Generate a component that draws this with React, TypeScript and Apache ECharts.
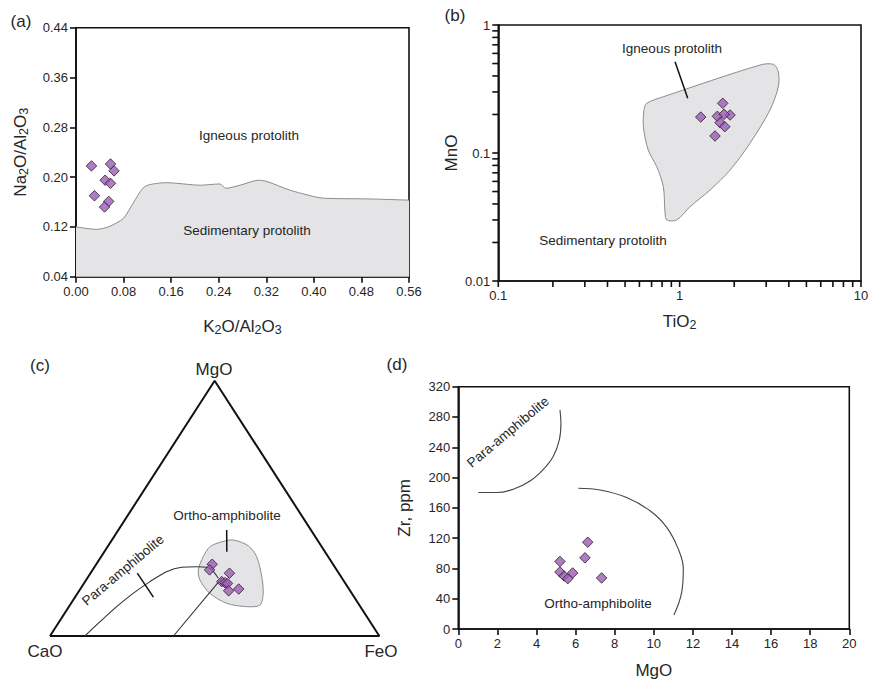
import { useEffect, useRef } from "react";
import * as echarts from "echarts";

// ---------- (a) K2O/Al2O3 vs Na2O/Al2O3 ----------
const aSamples: [number, number][] = [
  [0.026, 0.218], [0.058, 0.221], [0.064, 0.21], [0.049, 0.195],
  [0.058, 0.19], [0.031, 0.17], [0.055, 0.161], [0.048, 0.152],
];
// igneous / sedimentary dividing line
const aBoundary: [number, number][] = [
  [0, 0.12], [0.035, 0.116], [0.057, 0.121], [0.08, 0.134], [0.096, 0.158],
  [0.116, 0.185], [0.153, 0.191], [0.209, 0.187], [0.242, 0.189], [0.252, 0.182],
  [0.276, 0.187], [0.307, 0.195], [0.321, 0.193], [0.36, 0.179], [0.399, 0.169],
  [0.418, 0.166], [0.489, 0.165], [0.56, 0.163],
];

// ---------- (b) TiO2 vs MnO (log-log) ----------
const bSamples: [number, number][] = [
  [1.307, 0.191], [1.729, 0.2445], [1.614, 0.1935], [1.897, 0.198],
  [1.758, 0.2006], [1.67, 0.1725], [1.774, 0.1605], [1.567, 0.1358],
];
const bIgneousField: [number, number][] = [
  [0.658, 0.2445], [0.813, 0.275], [2.777, 0.487], [3.29, 0.493], [3.5, 0.432],
  [3.5, 0.33], [3.15, 0.217], [2.44, 0.119], [1.897, 0.0736], [1.472, 0.0514],
  [1.14, 0.038], [0.964, 0.03], [0.849, 0.03], [0.83, 0.0348], [0.813, 0.0545],
  [0.748, 0.078], [0.671, 0.1055], [0.631, 0.1605], [0.636, 0.217],
];
const bLeader: [number, number][] = [[0.943, 0.517], [1.108, 0.2675]];
const bTicksX = [0.1, 0.2, 0.3, 0.4, 0.5, 0.6, 0.7, 0.8, 0.9, 1, 2, 3, 4, 5, 6, 7, 8, 9, 10];
const bTicksY = [0.01, 0.02, 0.03, 0.04, 0.05, 0.06, 0.07, 0.08, 0.09, 0.1, 0.2, 0.3, 0.4, 0.5, 0.6, 0.7, 0.8, 0.9, 1];

// ---------- (c) CaO - MgO - FeO ternary, [CaO, MgO, FeO] % ----------
const cSamples: [number, number, number][] = [
  [36.7, 28.1, 35.2], [38.6, 25.9, 35.5], [33.2, 24.6, 42.2], [37.2, 21.3, 41.5],
  [36.4, 20.9, 42.7], [35.8, 20.6, 43.6], [33.5, 18.4, 48.1], [36.9, 17.7, 45.4],
];
const cOrthoField: [number, number, number][] = [
  [42.0, 25.9, 32.1], [37.9, 31.1, 31.0], [33.9, 35.0, 31.1], [29.4, 36.9, 33.7],
  [25.5, 37.6, 36.9], [22.1, 35.3, 42.6], [21.7, 31.1, 47.2], [24.1, 23.2, 52.7],
  [26.9, 16.7, 56.4], [30.2, 12.1, 57.7], [34.5, 11.5, 54.0], [39.9, 12.8, 47.3],
  [43.1, 16.7, 40.2], [43.5, 21.9, 34.6],
];
const cParaCurve: [number, number, number][] = [
  [89.4, 0, 10.6], [82.0, 5.6, 12.4], [74.0, 11.5, 14.5], [66.4, 16.7, 16.9],
  [59.0, 21.3, 19.7], [52.0, 25.2, 22.8], [46.6, 26.9, 26.5], [41.9, 27.1, 31.0],
  [39.0, 26.9, 34.1], [37.8, 25.2, 37.0], [37.6, 22.6, 39.8],
];
const cParaLine: [number, number, number][] = [[62.5, 0, 37.5], [36.6, 22.6, 40.8]];
const cParaLeader: [number, number, number][] = [[61.2, 24.6, 14.2], [61.0, 15.2, 23.8]];
const cOrthoLeader: [number, number, number][] = [[25.6, 41.5, 32.9], [29.8, 33.0, 37.2]];
const cApices: [number, number, number][] = [[100, 0, 0], [0, 100, 0], [0, 0, 100], [100, 0, 0]];

// ---------- (d) MgO vs Zr ----------
const dSamples: [number, number][] = [
  [6.62, 114.6], [6.48, 94.0], [5.2, 89.2], [5.2, 75.3], [5.41, 70.0],
  [5.85, 74.0], [5.6, 66.5], [7.33, 67.4],
];
const dParaCurve: [number, number][] = [
  [5.2, 289.4], [5.25, 272.0], [5.17, 250.1], [4.86, 228.2], [4.35, 210.8],
  [3.67, 195.4], [2.81, 184.5], [1.96, 180.2], [1.02, 180.2],
];
const dOrthoCurve: [number, number][] = [
  [6.14, 185.8], [7.25, 183.6], [8.61, 173.6], [9.81, 156.1], [10.66, 134.3],
  [11.25, 105.8], [11.51, 79.6], [11.43, 49.0], [11.03, 18.4],
];

const FONT = 'Arial, "Liberation Sans", Helvetica, sans-serif';
const TXT = "#262626";
const PURPLE = "#9d5db3";
const FIELD_FILL = "#e4e4e6";
const FIELD_LINE = "#8c8c8c";

// ternary composition -> plane position inside the triangle
const tern = (p: [number, number, number]): [number, number] => {
  const s = p[0] + p[1] + p[2];
  const mg = p[1] / s;
  const fe = p[2] / s;
  return [fe + mg / 2, mg];
};

// axis titles with chemical subscripts
const nameRich = {
  m: { fontSize: 17, fontFamily: FONT, color: TXT, lineHeight: 20 },
  s: { fontSize: 12.5, fontFamily: FONT, color: TXT, lineHeight: 20, verticalAlign: "bottom" as const },
};

const axisCommon = {
  axisLine: { lineStyle: { color: "#111", width: 1.6 } },
  axisTick: { length: 6, lineStyle: { color: "#111", width: 1.6 } },
  axisLabel: { color: TXT, fontSize: 13, fontFamily: FONT, margin: 8 },
  splitLine: { show: false },
  nameLocation: "middle" as const,
  nameTextStyle: { color: TXT, fontSize: 17, fontFamily: FONT, lineHeight: 20, rich: nameRich },
};

const diamond = {
  type: "scatter" as const,
  symbol: "diamond",
  symbolSize: 10.5,
  itemStyle: { color: PURPLE, borderColor: "#2a1b30", borderWidth: 1 },
  z: 5,
};

const thinLine = (color = "#444", width = 1.1) => ({
  type: "line" as const,
  symbol: "none",
  clip: false,
  lineStyle: { color, width },
  silent: true,
});

const logLabel = (v: number) => (v >= 1 ? v.toFixed(0) : String(+v.toPrecision(1)));

const text = (
  s: string, x: number, y: number, size = 13.5, rotation = 0,
) => ({
  type: "text",
  x,
  y,
  rotation: (rotation * Math.PI) / 180,
  style: {
    text: s,
    fontSize: size,
    fontFamily: FONT,
    fill: TXT,
    align: "center",
    verticalAlign: "middle",
  },
  z: 10,
});

export default function App() {
  const ref = useRef<HTMLDivElement>(null);

  useEffect(() => {
    if (!ref.current) return;
    const chart = echarts.init(ref.current, undefined, { renderer: "svg" });

    const fieldRenderer = (pts: [number, number][]) => (_p: any, api: any) => ({
      type: "polygon",
      shape: { points: pts.map((p) => api.coord(p)), smooth: 0.3 },
      style: { fill: FIELD_FILL, stroke: FIELD_LINE, lineWidth: 1 },
    });

    chart.setOption({
      animation: false,
      backgroundColor: "#ffffff",
      grid: [
        { left: 76, top: 27.7, width: 333, height: 249, show: true, borderColor: "#111", borderWidth: 1.6 },
        { left: 498.3, top: 25, width: 362.7, height: 256, show: true, borderColor: "#111", borderWidth: 1.6 },
        { left: 50, top: 380.7, width: 329.3, height: 255.3, show: false },
        { left: 458.3, top: 386.7, width: 391, height: 244, show: true, borderColor: "#111", borderWidth: 1.6 },
      ],
      xAxis: [
        {
          ...axisCommon, gridIndex: 0, type: "value", min: 0, max: 0.56, interval: 0.08,
          axisLabel: { ...axisCommon.axisLabel, formatter: (v: number) => v.toFixed(2) },
          name: "{m|K}{s|2}{m|O/Al}{s|2}{m|O}{s|3}", nameGap: 40,
        },
        {
          ...axisCommon, gridIndex: 1, type: "log", logBase: 10, min: 0.1, max: 10,
          axisTick: { show: false },
          axisLabel: { ...axisCommon.axisLabel, formatter: logLabel },
          name: "{m|TiO}{s|2}", nameGap: 30,
        },
        { gridIndex: 2, type: "value", min: 0, max: 1, show: false },
        {
          ...axisCommon, gridIndex: 3, type: "value", min: 0, max: 20, interval: 2,
          name: "MgO", nameGap: 31,
        },
      ],
      yAxis: [
        {
          ...axisCommon, gridIndex: 0, type: "value", min: 0.04, max: 0.44, interval: 0.08,
          axisLabel: { ...axisCommon.axisLabel, formatter: (v: number) => v.toFixed(2) },
          name: "{m|Na}{s|2}{m|O/Al}{s|2}{m|O}{s|3}", nameGap: 46,
        },
        {
          ...axisCommon, gridIndex: 1, type: "log", logBase: 10, min: 0.01, max: 1,
          axisTick: { show: false },
          axisLabel: { ...axisCommon.axisLabel, formatter: logLabel },
          name: "MnO", nameGap: 33,
        },
        { gridIndex: 2, type: "value", min: 0, max: 1, show: false },
        {
          ...axisCommon, gridIndex: 3, type: "value", min: 0, max: 320, interval: 40,
          name: "Zr, ppm", nameGap: 44,
        },
      ],
      series: [
        // (a)
        {
          ...thinLine(FIELD_LINE, 1), xAxisIndex: 0, yAxisIndex: 0, data: aBoundary,
          smooth: 0.25, areaStyle: { color: FIELD_FILL, origin: "start", opacity: 1 }, z: 1,
        },
        { ...diamond, xAxisIndex: 0, yAxisIndex: 0, data: aSamples },
        // (b)
        {
          type: "custom", xAxisIndex: 1, yAxisIndex: 1, data: [[1, 0.1]], silent: true, z: 1,
          renderItem: fieldRenderer(bIgneousField),
        },
        { ...thinLine("#111", 1.5), xAxisIndex: 1, yAxisIndex: 1, data: bLeader },
        { ...diamond, xAxisIndex: 1, yAxisIndex: 1, data: bSamples },
        // (c)
        {
          type: "custom", xAxisIndex: 2, yAxisIndex: 2, data: [[0.5, 0.5]], silent: true, z: 1,
          renderItem: fieldRenderer(cOrthoField.map(tern)),
        },
        { ...thinLine("#111", 2), xAxisIndex: 2, yAxisIndex: 2, data: cApices.map(tern) },
        { ...thinLine("#333", 1.1), xAxisIndex: 2, yAxisIndex: 2, data: cParaCurve.map(tern), smooth: 0.3 },
        { ...thinLine("#333", 1.1), xAxisIndex: 2, yAxisIndex: 2, data: cParaLine.map(tern) },
        { ...thinLine("#111", 1.5), xAxisIndex: 2, yAxisIndex: 2, data: cParaLeader.map(tern) },
        { ...thinLine("#111", 1.5), xAxisIndex: 2, yAxisIndex: 2, data: cOrthoLeader.map(tern) },
        { ...diamond, xAxisIndex: 2, yAxisIndex: 2, data: cSamples.map(tern) },
        // (d)
        { ...thinLine("#444", 1.1), xAxisIndex: 3, yAxisIndex: 3, data: dParaCurve, smooth: 0.4 },
        { ...thinLine("#444", 1.1), xAxisIndex: 3, yAxisIndex: 3, data: dOrthoCurve, smooth: 0.4 },
        { ...diamond, xAxisIndex: 3, yAxisIndex: 3, data: dSamples },
      ],
    });

    // log-decade tick marks of (b), placed through the grid's own log scales
    const tickLines: any[] = [];
    bTicksX.forEach((v) => {
      const [px, py] = chart.convertToPixel({ gridIndex: 1 }, [v, 0.01]) as number[];
      tickLines.push({ type: "line", shape: { x1: px, y1: py, x2: px, y2: py + 6 }, style: { stroke: "#111", lineWidth: 1.6 }, z: 4 });
    });
    bTicksY.forEach((v) => {
      const [px, py] = chart.convertToPixel({ gridIndex: 1 }, [0.1, v]) as number[];
      tickLines.push({ type: "line", shape: { x1: px - 6, y1: py, x2: px, y2: py }, style: { stroke: "#111", lineWidth: 1.6 }, z: 4 });
    });

    chart.setOption({
      graphic: [
        ...tickLines,
        text("(a)", 21, 21, 17),
        text("(b)", 455, 15, 17),
        text("(c)", 40, 365, 17),
        text("(d)", 397, 364, 17),
        text("Igneous protolith", 249, 135),
        text("Sedimentary protolith", 247, 230),
        text("Igneous protolith", 672, 48),
        text("Sedimentary protolith", 603, 240),
        text("MgO", 214, 369, 17),
        text("CaO", 45, 651, 17),
        text("FeO", 381, 651, 17),
        text("Ortho-amphibolite", 227, 515),
        text("Para-amphibolite", 123, 570, 13.5, 40),
        text("Para-amphibolite", 508, 432, 13.5, 40),
        text("Ortho-amphibolite", 598, 603),
      ],
    });

    return () => chart.dispose();
  }, []);

  return (
    <div
      ref={ref}
      style={{ position: "absolute", left: 0, top: 0, width: 872, height: 681, background: "#fff" }}
    />
  );
}
